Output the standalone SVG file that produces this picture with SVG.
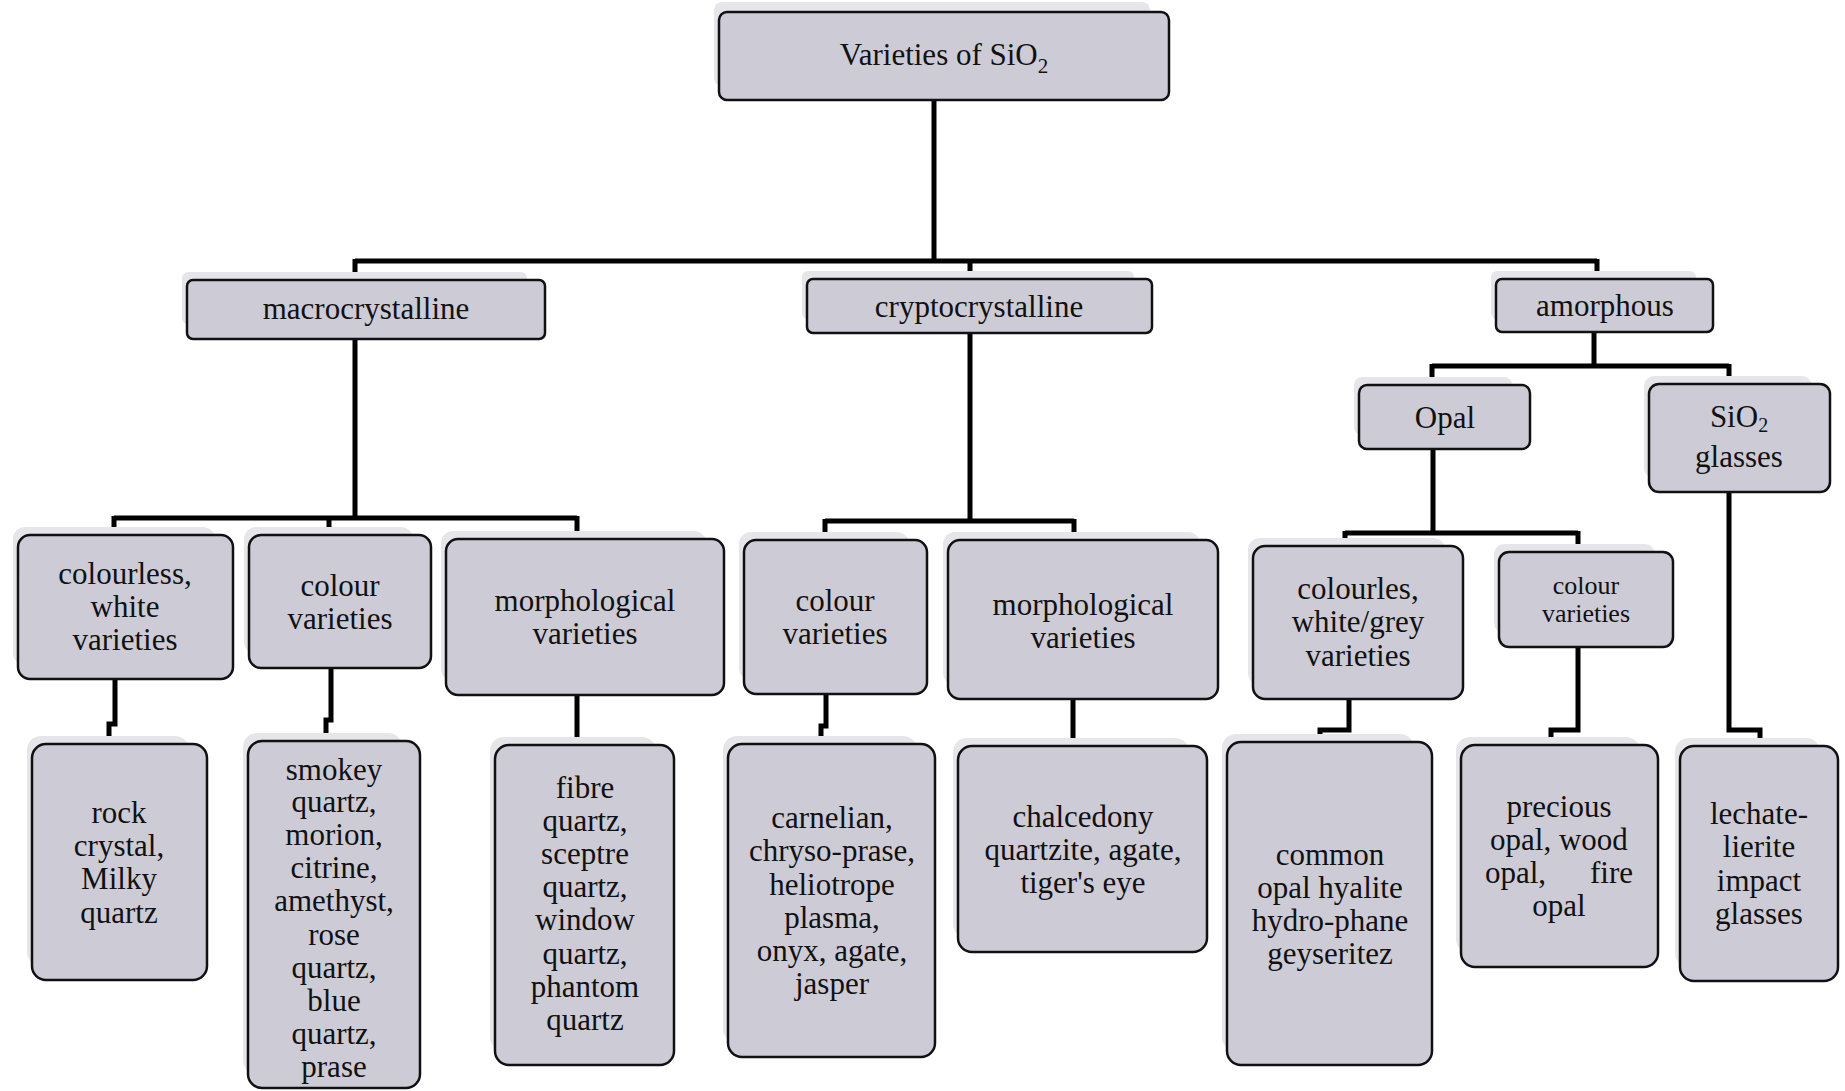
<svg xmlns="http://www.w3.org/2000/svg" width="1845" height="1091" viewBox="0 0 1845 1091">
<style>
.bx{fill:#cdcbd6;stroke:#111;stroke-width:2.5}
.sh{fill:#e6e6ea}
.t{font-family:"Liberation Serif","Times New Roman",serif;font-size:31px;text-anchor:middle;fill:#111}
.s{font-size:26px}
.c{stroke:#000;stroke-width:5;fill:none}
</style>
<rect width="1845" height="1091" fill="#fff"/>
<g id="connectors" class="c">
<path d="M934 100V261M355 261H1597M355 259V280M970 259V279M1597 259V279"/>
<path d="M355 339V518M114 518H577M114 516V535M329 518V535M577 516V539"/>
<path d="M970 333V521M825 521H1074M825 519V540M1074 519V540"/>
<path d="M1594 332V366M1432 366H1729M1432 364V385M1729 364V384"/>
<path d="M1433 449V533M1345 533H1578M1345 531V546M1578 531V552"/>
<path d="M115 679V724H109V744M331 668V720H326V741M577 695V745"/>
<path d="M826 694V726H821V744M1073 699V746"/>
<path d="M1349 699V730H1320V742M1578 647V730H1551V745M1729 492V730H1760V746"/>
</g>
<g id="root"><rect class="sh" x="714" y="2" width="436" height="84" rx="8"/><rect class="bx" x="719" y="12" width="450" height="88" rx="8"/><text class="t" x="944" y="65">Varieties of SiO<tspan font-size="21" dy="8">2</tspan></text></g>
<g id="macro"><rect class="sh" x="182" y="272" width="345" height="52" rx="6"/><rect class="bx" x="187" y="280" width="358" height="59" rx="6"/><text class="t" x="366" y="319">macrocrystalline</text></g>
<g id="crypto"><rect class="sh" x="802" y="271" width="332" height="48" rx="6"/><rect class="bx" x="807" y="279" width="345" height="54" rx="6"/><text class="t" x="979" y="317">cryptocrystalline</text></g>
<g id="amorph"><rect class="sh" x="1491" y="271" width="205" height="48" rx="6"/><rect class="bx" x="1496" y="279" width="217" height="53" rx="6"/><text class="t" x="1605" y="316">amorphous</text></g>
<g id="opal"><rect class="sh" x="1354" y="377" width="158" height="58" rx="8"/><rect class="bx" x="1359" y="385" width="171" height="64" rx="8"/><text class="t" x="1445" y="428">Opal</text></g>
<g id="glasses"><rect class="sh" x="1644" y="376" width="168" height="102" rx="10"/><rect class="bx" x="1649" y="384" width="181" height="108" rx="10"/><text class="t" x="1739" y="427">SiO<tspan font-size="20" dy="5">2</tspan></text><text class="t" x="1739" y="467">glasses</text></g>
<g id="colourless"><rect class="sh" x="13" y="527" width="202" height="138" rx="12"/><rect class="bx" x="18" y="535" width="215" height="144" rx="12"/><text class="t" x="125" y="584">colourless,</text><text class="t" x="125" y="617">white</text><text class="t" x="125" y="650">varieties</text></g>
<g id="macrocolour"><rect class="sh" x="244" y="527" width="169" height="127" rx="12"/><rect class="bx" x="249" y="535" width="182" height="133" rx="12"/><text class="t" x="340" y="596">colour</text><text class="t" x="340" y="629">varieties</text></g>
<g id="macromorph"><rect class="sh" x="441" y="531" width="265" height="150" rx="12"/><rect class="bx" x="446" y="539" width="278" height="156" rx="12"/><text class="t" x="585" y="611">morphological</text><text class="t" x="585" y="644">varieties</text></g>
<g id="cryptocolour"><rect class="sh" x="739" y="532" width="170" height="148" rx="12"/><rect class="bx" x="744" y="540" width="183" height="154" rx="12"/><text class="t" x="835" y="611">colour</text><text class="t" x="835" y="644">varieties</text></g>
<g id="cryptomorph"><rect class="sh" x="943" y="532" width="257" height="153" rx="12"/><rect class="bx" x="948" y="540" width="270" height="159" rx="12"/><text class="t" x="1083" y="615">morphological</text><text class="t" x="1083" y="648">varieties</text></g>
<g id="opalwhite"><rect class="sh" x="1248" y="538" width="197" height="147" rx="12"/><rect class="bx" x="1253" y="546" width="210" height="153" rx="12"/><text class="t" x="1358" y="599">colourles,</text><text class="t" x="1358" y="632">white/grey</text><text class="t" x="1358" y="666">varieties</text></g>
<g id="opalcolour"><rect class="sh" x="1494" y="544" width="161" height="89" rx="10"/><rect class="bx" x="1499" y="552" width="174" height="95" rx="10"/><text class="t s" x="1586" y="594">colour</text><text class="t s" x="1586" y="622">varieties</text></g>
<g id="rock"><rect class="sh" x="27" y="736" width="162" height="230" rx="14"/><rect class="bx" x="32" y="744" width="175" height="236" rx="14"/><text class="t" x="119" y="823">rock</text><text class="t" x="119" y="856">crystal,</text><text class="t" x="119" y="889">Milky</text><text class="t" x="119" y="923">quartz</text></g>
<g id="smokey"><rect class="sh" x="243" y="733" width="159" height="341" rx="14"/><rect class="bx" x="248" y="741" width="172" height="347" rx="14"/><text class="t" x="334" y="780">smokey</text><text class="t" x="334" y="812">quartz,</text><text class="t" x="334" y="845">morion,</text><text class="t" x="334" y="878">citrine,</text><text class="t" x="334" y="911">amethyst,</text><text class="t" x="334" y="945">rose</text><text class="t" x="334" y="978">quartz,</text><text class="t" x="334" y="1011">blue</text><text class="t" x="334" y="1044">quartz,</text><text class="t" x="334" y="1077">prase</text></g>
<g id="fibre"><rect class="sh" x="490" y="737" width="166" height="314" rx="14"/><rect class="bx" x="495" y="745" width="179" height="320" rx="14"/><text class="t" x="585" y="798">fibre</text><text class="t" x="585" y="831">quartz,</text><text class="t" x="585" y="864">sceptre</text><text class="t" x="585" y="897">quartz,</text><text class="t" x="585" y="930">window</text><text class="t" x="585" y="964">quartz,</text><text class="t" x="585" y="997">phantom</text><text class="t" x="585" y="1030">quartz</text></g>
<g id="carnelian"><rect class="sh" x="723" y="736" width="194" height="307" rx="14"/><rect class="bx" x="728" y="744" width="207" height="313" rx="14"/><text class="t" x="832" y="828">carnelian,</text><text class="t" x="832" y="861">chryso-prase,</text><text class="t" x="832" y="895">heliotrope</text><text class="t" x="832" y="928">plasma,</text><text class="t" x="832" y="961">onyx, agate,</text><text class="t" x="832" y="994">jasper</text></g>
<g id="chalcedony"><rect class="sh" x="953" y="738" width="236" height="200" rx="14"/><rect class="bx" x="958" y="746" width="249" height="206" rx="14"/><text class="t" x="1083" y="827">chalcedony</text><text class="t" x="1083" y="860">quartzite, agate,</text><text class="t" x="1083" y="893">tiger's eye</text></g>
<g id="common"><rect class="sh" x="1222" y="734" width="192" height="317" rx="14"/><rect class="bx" x="1227" y="742" width="205" height="323" rx="14"/><text class="t" x="1330" y="865">common</text><text class="t" x="1330" y="898">opal hyalite</text><text class="t" x="1330" y="931">hydro-phane</text><text class="t" x="1330" y="964">geyseritez</text></g>
<g id="precious"><rect class="sh" x="1456" y="737" width="184" height="216" rx="14"/><rect class="bx" x="1461" y="745" width="197" height="222" rx="14"/><text class="t" x="1559" y="817">precious</text><text class="t" x="1559" y="850">opal, wood</text><text class="t" y="883"><tspan x="1485" text-anchor="start">opal,</tspan><tspan x="1633" text-anchor="end">fire</tspan></text><text class="t" x="1559" y="916">opal</text></g>
<g id="lechate"><rect class="sh" x="1675" y="738" width="145" height="229" rx="14"/><rect class="bx" x="1680" y="746" width="158" height="235" rx="14"/><text class="t" x="1759" y="824">lechate-</text><text class="t" x="1759" y="857">lierite</text><text class="t" x="1759" y="891">impact</text><text class="t" x="1759" y="924">glasses</text></g>
</svg>
